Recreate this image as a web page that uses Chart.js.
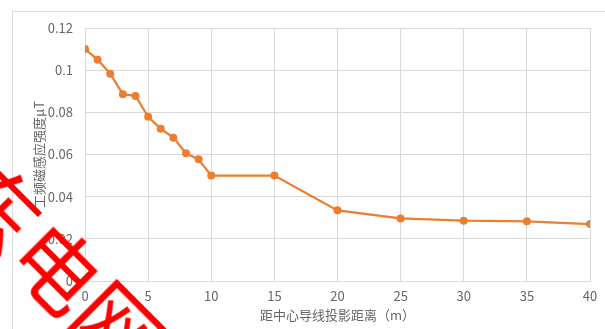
<!DOCTYPE html>
<html>
<head>
<meta charset="utf-8">
<script src="https://cdn.jsdelivr.net/npm/chart.js@4"></script>
<style>
  html, body { margin: 0; padding: 0; background: #fff; overflow: hidden; }
  #wrap { position: relative; width: 605px; height: 329px; overflow: hidden; }
  #frame { position: absolute; left: 12px; top: 11px; width: 610px; height: 340px; border: 1px solid #d9d9d9; }
  #c { position: absolute; left: 0; top: 0; }
  #mark {
    position: absolute; left: -152px; top: 222px;
    font: normal 85px "Noto Sans CJK SC"; line-height: 85px; color: #ff0000;
    white-space: nowrap; transform-origin: 212.5px 42.5px; transform: rotate(45deg);
  }
</style>
</head>
<body>
<div id="wrap">
  <div id="frame"></div>
  <canvas id="c" width="605" height="329"></canvas>
  <div id="mark">广东电网</div>
</div>
<script>
const distances = [0, 1, 2, 3, 4, 5, 6, 7, 8, 9, 10, 15, 20, 25, 30, 35, 40];
const fieldValues = [0.110, 0.105, 0.0983, 0.0886, 0.0878, 0.0779, 0.0722, 0.068, 0.0606, 0.0577, 0.050, 0.050, 0.0335, 0.0297, 0.0286, 0.0283, 0.027];
const xTitle = "距中心导线投影距离（m）";
const yTitle = "工频磁感应强度μT";

const font = "'Noto Sans CJK SC', 'Noto Sans', sans-serif";
const gridColor = "#d9d9d9";
const textColor = "#666666";

new Chart(document.getElementById("c"), {
  type: "line",
  data: {
    datasets: [{
      data: distances.map((d, i) => ({ x: d, y: fieldValues[i] })),
      borderColor: "#ed7d31",
      backgroundColor: "#ed7d31",
      borderWidth: 2.25,
      pointRadius: 4,
      pointBorderWidth: 0,
      tension: 0
    }]
  },
  options: {
    responsive: false,
    animation: false,
    devicePixelRatio: 1,
    layout: { padding: { top: 28, right: 15, left: 0, bottom: 0 } },
    plugins: { legend: { display: false }, tooltip: { enabled: false } },
    scales: {
      x: {
        type: "linear",
        min: 0, max: 40,
        ticks: { stepSize: 5, color: textColor, font: { family: font, size: 13 }, padding: 7 },
        grid: { color: gridColor, drawTicks: false },
        border: { color: gridColor },
        title: { display: true, text: xTitle, color: textColor, font: { family: font, size: 13 }, padding: { top: 0, bottom: 6 } },
        afterFit: s => { s.height = 48; }
      },
      y: {
        min: 0, max: 0.12,
        ticks: {
          stepSize: 0.02, color: textColor, font: { family: font, size: 13 }, padding: 12,
          callback: v => String(Number(v.toFixed(2)))
        },
        grid: { color: gridColor, drawTicks: false },
        border: { color: gridColor },
        title: { display: true, text: yTitle, color: textColor, font: { family: font, size: 13 }, padding: { top: 31, bottom: 0 } },
        afterFit: s => { s.width = 85; }
      }
    }
  }
});
</script>
</body>
</html>
